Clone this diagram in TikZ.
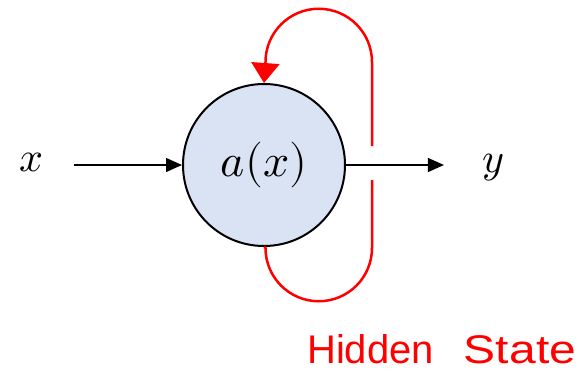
\documentclass[tikz,border=0pt]{standalone}
\usepackage{fontspec}
\usepackage{unicode-math}
\setmainfont{Liberation Sans}
\setmathfont{Latin Modern Math}
\usetikzlibrary{arrows.meta}
\definecolor{cellfill}{RGB}{218,227,243}
\definecolor{loopred}{RGB}{255,0,0}
\tikzset{
  cell/.style={circle, draw=black, line width=2pt, fill=cellfill, minimum size=162pt, inner sep=0pt, font=\fontsize{46}{52}\selectfont},
  lbl/.style={inner sep=0pt, font=\fontsize{42}{48}\selectfont},
  flow/.style={line width=1.3pt, -{Triangle[length=16pt,width=14pt]}},
  loop/.style={draw=loopred, line width=2.5pt},
  hs/.style={text=loopred, inner sep=0pt, anchor=base west, font=\fontsize{40}{44}\selectfont}
}
\begin{document}
\begin{tikzpicture}[x=1pt,y=-1pt]
\useasboundingbox (0,0) rectangle (588,375);
\node[cell] (a) at (264,165) {$a(x)$};
\node[lbl] (x) at (32,162) {$x$};
\node[lbl] (y) at (493,168) {$y$};
\draw[flow, shorten <=30pt] (x.east |- a.west) -- (a.west);
\draw[flow, shorten >=38pt] (a.east) -- (y.west |- a.east);
\coordinate (g1) at (372,180);
\coordinate (g2) at (372,146);
\draw[loop] (a.south) -- (265.5,248) arc[start angle=180, end angle=0, radius=53.25] -- (g1);
\draw[loop, -{Triangle[length=20pt,width=28pt]}] (g2) -- (372,62) arc[start angle=0, end angle=-180, radius=53.25] -- (a.north);
\node[hs] (hidden) at (307,363) {Hidden\hspace{0.75em}\scalebox{1.2}[1]{State}};
\end{tikzpicture}
\end{document}
